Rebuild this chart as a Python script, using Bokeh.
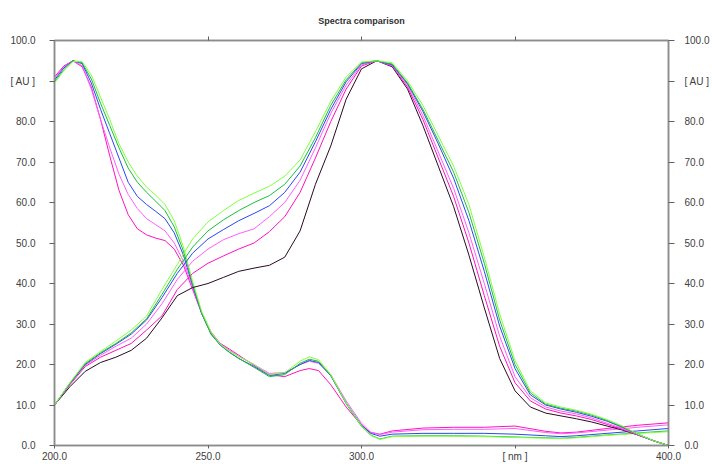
from bokeh.plotting import figure
from bokeh.models import LinearAxis, FixedTicker, NumeralTickFormatter, Range1d, Title
from bokeh.embed import file_html
from bokeh.resources import INLINE

# ---- data (wavelength nm, absorbance AU) ----
wl_a = [200, 203, 206, 209, 212, 215, 218, 221, 224, 227, 230, 233, 236, 239, 242, 245, 248, 251, 254, 257,
        260, 265, 270, 275, 280, 283, 286, 290, 295, 300, 303, 306, 310, 320, 330, 340, 350, 360, 365, 370,
        380, 390, 400]
a_magenta = [91, 93.7, 95, 93.5, 88.5, 80.5, 71.5, 63, 57, 53.5, 52, 51.2, 50.6, 48.5, 44.5, 38.5, 32.5, 28, 25.2, 23.8,
             22.3, 19.8, 17.5, 17, 18.5, 19, 18.5, 15, 9.5, 5, 3.2, 2.8, 3.6, 4.3, 4.5, 4.5, 4.8, 3.5, 3.1, 3.3,
             4.2, 5, 5.6]
a_pink = [90.6, 93.5, 95, 93.8, 88, 80.5, 73.5, 67, 62, 58.5, 56, 54.5, 53, 50, 45.5, 39, 32.5, 27.8, 25, 23.5,
          22, 20, 17.8, 18, 20, 20.8, 20.3, 17.5, 11, 5.5, 3.3, 2.7, 3.3, 3.9, 4, 4, 4.2, 3.2, 2.9, 3.1,
          3.8, 4.5, 5.1]
a_blue = [90.2, 93.2, 95, 94.3, 89.5, 83, 77, 71, 65, 61.5, 59.5, 57.8, 56, 52.5, 47, 39.5, 32.5, 27.5, 24.8, 23,
          21.5, 19.5, 17.3, 17.8, 20, 21, 20.5, 17.2, 10.5, 5, 3, 2.3, 2.8, 3, 3, 3, 2.8, 2.4, 2.2, 2.4,
          3, 3.6, 4.2]
a_green = [89.8, 92.8, 95, 94.5, 90.5, 84.5, 79, 73.5, 68.5, 65, 62.5, 60.3, 58, 54, 48, 40, 32.5, 27.5, 24.8, 23,
           21.5, 19.3, 17, 17.5, 20.3, 21.3, 20.8, 17.3, 10.3, 4.7, 2.6, 1.6, 2.3, 2.4, 2.4, 2.3, 2.1, 1.9, 1.8, 2,
           2.6, 3.1, 3.6]
a_lgreen = [89.5, 92.5, 94.8, 94.8, 91.5, 86, 80.5, 74.5, 70, 66.5, 63.8, 61.8, 59.5, 55.5, 49, 40.5, 33, 28, 25, 23.3,
            22, 20, 17.5, 18, 20.8, 21.9, 21.2, 17.5, 10.5, 4.8, 2.5, 1.5, 2.2, 2.3, 2.3, 2.2, 2, 1.8, 1.7, 1.9,
            2.5, 3, 3.4]

wl_b = [200, 205, 210, 215, 220, 225, 230, 235, 240, 245, 250, 255, 260, 265, 270, 275, 280, 285, 290, 295,
        300, 305, 310, 315, 320, 325, 330, 335, 340, 345, 350, 355, 360, 365, 370, 375, 380, 385, 390, 395, 400]
b_black = [10, 14.5, 18.3, 20.5, 21.8, 23.5, 26.5, 31.5, 37, 39, 40, 41.5, 43, 43.8, 44.5, 46.5, 53, 64.5, 74, 85.5,
           93, 95, 93.5, 88, 79, 69, 59, 47, 34, 21.5, 13.5, 9.5, 8, 7.3, 6.6, 5.8, 4.8, 3.8, 2.6, 1.2, 0]
b_magenta = [10, 15, 19.5, 21.8, 23.5, 25.2, 28.5, 32, 38.5, 42.5, 45, 46.8, 48.5, 50, 52.8, 56.5, 62.5, 71, 80, 88,
             93.7, 95, 93.7, 88.5, 80.5, 71, 61.5, 50, 37, 24.5, 15.5, 11, 9, 8, 7.3, 6.4, 5.2, 4, 2.6, 1.2, 0]
b_pink = [10, 15.2, 19.8, 22.3, 24.5, 26.5, 30, 35, 41, 45.5, 48.5, 50.8, 52.3, 53.5, 56.5, 60, 65.5, 73.5, 82, 89,
          94, 95, 93.8, 89, 81.5, 72.5, 63.5, 52.5, 40, 27, 17, 11.8, 9.5, 8.5, 7.8, 6.8, 5.5, 4.2, 2.7, 1.2, 0]
b_blue = [10, 15.3, 20, 22.7, 25, 27.5, 31, 36.5, 42.5, 47.5, 51, 53.3, 55.5, 57.3, 59.2, 62.5, 67.5, 75, 83, 89.8,
          94.3, 95, 94, 89.3, 82.5, 74.5, 66, 55.5, 43, 29.5, 19, 12.5, 10, 9, 8.2, 7.2, 6, 4.5, 2.8, 1.2, 0]
b_green = [10, 15.4, 20.2, 22.9, 25.2, 27.8, 31.3, 37.3, 43.5, 49, 53, 55.7, 58, 60, 61.7, 64.5, 69, 76, 84, 90.3,
           94.5, 95, 94.2, 89.5, 83, 75.3, 67.5, 57.5, 45, 31, 20, 13, 10.2, 9.2, 8.5, 7.5, 6.2, 4.6, 2.8, 1.2, 0]
b_lgreen = [10, 15.5, 20.5, 23.2, 25.8, 28.5, 32, 38.5, 44.7, 51, 55.2, 58, 60.5, 62.3, 64, 66.5, 70.5, 77.5, 85, 91,
            94.7, 95, 94.5, 90, 84, 76.5, 69, 59.5, 46.5, 32.5, 21, 13.5, 10.5, 9.5, 8.7, 7.7, 6.4, 4.8, 2.8, 1.2, 0]

x_ticks = [200, 250, 300, 350, 400]
y_ticks = [0, 10, 20, 30, 40, 50, 60, 70, 80, 90, 100]
x_unit = "[ nm ]"
y_unit = "[ AU ]"
title_text = "Spectra comparison"

colors = {"black": "#2a0a22", "magenta": "#ff10c0", "pink": "#ff5cff",
          "blue": "#2848f0", "green": "#18c038", "lgreen": "#80ff40"}

FONT = "Liberation Sans"
AXIS_COLOR = "#8c8c8c"
LABEL_COLOR = "#404040"

p = figure(width=712, height=464, output_backend="svg", toolbar_location=None,
           x_range=Range1d(200, 400), y_range=Range1d(0, 100),
           x_axis_location=None, y_axis_location=None,
           min_border_left=54, min_border_right=41, min_border_top=40, min_border_bottom=19)
p.background_fill_color = "white"
p.border_fill_color = "white"
p.outline_line_color = AXIS_COLOR
p.outline_line_width = 1.5
p.xgrid.visible = False
p.ygrid.visible = False

p.title = Title(text=title_text, align="center", text_font=FONT, text_font_size="9px",
                text_font_style="bold", text_color="#303030", standoff=21)


def style_axis(ax, tick_out, standoff):
    ax.axis_line_color = AXIS_COLOR
    ax.axis_line_width = 1.5
    ax.major_tick_line_color = "#606060"
    ax.major_tick_out = tick_out
    ax.major_tick_in = 0
    ax.minor_tick_line_color = None
    ax.major_label_text_font = FONT
    ax.major_label_text_font_size = "10px"
    ax.major_label_text_color = LABEL_COLOR
    ax.major_label_standoff = standoff


left = LinearAxis(ticker=FixedTicker(ticks=y_ticks), formatter=NumeralTickFormatter(format="0.0"),
                  major_label_overrides={90: y_unit})
style_axis(left, 5, 14)
p.add_layout(left, "left")

right = LinearAxis(ticker=FixedTicker(ticks=y_ticks), formatter=NumeralTickFormatter(format="0.0"),
                   major_label_overrides={90: y_unit})
style_axis(right, 6, 10)
p.add_layout(right, "right")

bottom = LinearAxis(ticker=FixedTicker(ticks=x_ticks), formatter=NumeralTickFormatter(format="0.0"),
                    major_label_overrides={350: x_unit})
style_axis(bottom, 3, 2)
p.add_layout(bottom, "below")

top_ticks = x_ticks[1:4]
top = LinearAxis(ticker=FixedTicker(ticks=top_ticks),
                 major_label_overrides={t: "" for t in top_ticks})
style_axis(top, 4, 0)
p.add_layout(top, "above")

for key, ys in [("magenta", a_magenta), ("pink", a_pink), ("blue", a_blue),
                ("green", a_green), ("lgreen", a_lgreen)]:
    p.line(wl_a, ys, line_color=colors[key], line_width=1)

for key, ys in [("black", b_black), ("magenta", b_magenta), ("pink", b_pink), ("blue", b_blue),
                ("green", b_green), ("lgreen", b_lgreen)]:
    p.line(wl_b, ys, line_color=colors[key], line_width=1)

open("out.html", "w").write(file_html(p, INLINE))
